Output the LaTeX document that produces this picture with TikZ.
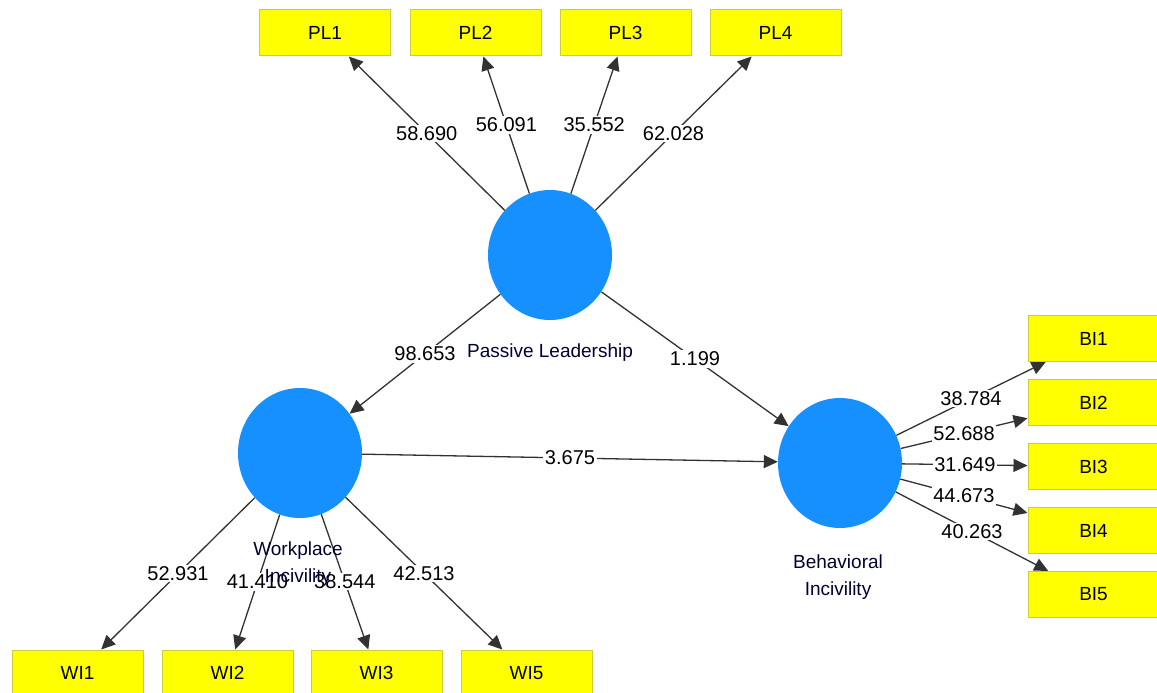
\documentclass[tikz,border=0pt]{standalone}
\usepackage{fontspec}
\setmainfont{Liberation Sans}
\usetikzlibrary{arrows.meta,shapes.geometric}
\definecolor{lvblue}{RGB}{22,144,255}
\definecolor{mvyellow}{RGB}{255,255,0}
\definecolor{mvborder}{RGB}{205,205,60}
\definecolor{pathgray}{RGB}{50,50,50}
\begin{document}
\begin{tikzpicture}[x=1pt,y=-1pt,
    construct/.style={ellipse,fill=lvblue,minimum width=124pt,minimum height=130pt,inner sep=0pt},
    indicator/.style={rectangle,fill=mvyellow,draw=mvborder,line width=1pt,minimum width=131pt,minimum height=46pt,inner sep=0pt,font=\fontsize{19}{22}\selectfont},
    tval/.style={fill=white,inner sep=1.5pt,font=\fontsize{20}{24}\selectfont},
    cname/.style={align=center,font=\fontsize{19}{27}\selectfont,text=black!80!blue}]
      \useasboundingbox (0,0) rectangle (1157,693);
      \clip (0,0) rectangle (1157,693);
      \draw
        (550,255) node[construct] (pl){}
        (300,453) node[construct] (wi){}
        (840,463) node[construct] (bi){}
        (325,33) node[indicator] (pl1){PL1}
        (475.5,33) node[indicator] (pl2){PL2}
        (625.5,33) node[indicator] (pl3){PL3}
        (775.5,33) node[indicator] (pl4){PL4}
        (77.5,673) node[indicator] (wi1){WI1}
        (227.5,673) node[indicator] (wi2){WI2}
        (376.5,673) node[indicator] (wi3){WI3}
        (526.5,673) node[indicator] (wi5){WI5}
        (1093.5,338.5) node[indicator] (bi1){BI1}
        (1093.5,402.5) node[indicator] (bi2){BI2}
        (1093.5,466.5) node[indicator] (bi3){BI3}
        (1093.5,530.5) node[indicator] (bi4){BI4}
        (1093.5,594.5) node[indicator] (bi5){BI5};
      \begin{scope}[-{Triangle[length=14pt,width=13pt]},draw=pathgray,line width=1.3pt]
        \draw (pl) to node[tval]{58.690} (pl1);
        \draw (pl) to node[tval]{56.091} (pl2);
        \draw (pl) to node[tval]{35.552} (pl3);
        \draw (pl) to node[tval]{62.028} (pl4);
        \draw (pl) to node[tval]{98.653} (wi);
        \draw (pl) to node[tval]{1.199} (bi);
        \draw (wi) to node[tval]{3.675} (bi);
        \draw (wi) to node[tval]{52.931} (wi1);
        \draw (wi) to node[tval]{41.410} (wi2);
        \draw (wi) to node[tval]{38.544} (wi3);
        \draw (wi) to node[tval]{42.513} (wi5);
        \draw (bi) to node[tval]{38.784} (bi1);
        \draw (bi) to node[tval]{52.688} (bi2);
        \draw (bi) to node[tval]{31.649} (bi3);
        \draw (bi) to node[tval]{44.673} (bi4);
        \draw (bi) to node[tval]{40.263} (bi5);
      \end{scope}
      \node[cname] (pllab) at (550,353) {Passive Leadership};
      \node[cname] (wilab) at (298,564) {Workplace\\Incivility};
      \node[cname] (bilab) at (838,577) {Behavioral\\Incivility};
    \end{tikzpicture}
\end{document}
